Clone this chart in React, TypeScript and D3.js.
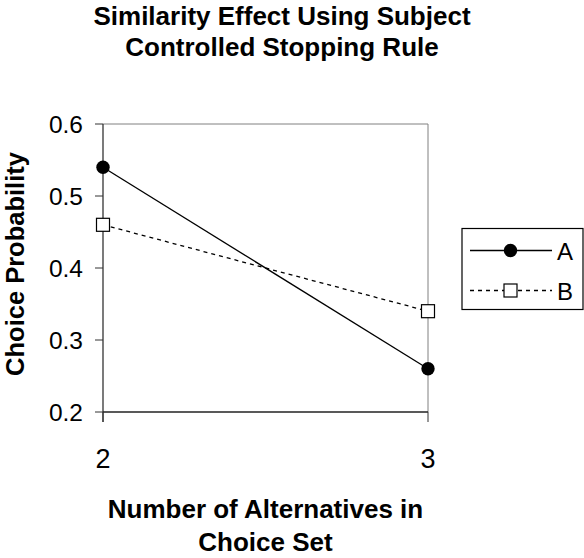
import React from "react";
import * as d3 from "d3";

const xValues = [2, 3];
const seriesA = [0.54, 0.26];
const seriesB = [0.46, 0.34];
const yTicks = [0.2, 0.3, 0.4, 0.5, 0.6];
const xTicks = [2, 3];
const titleLines = ["Similarity Effect Using Subject", "Controlled Stopping Rule"];
const xLabelLines = ["Number of Alternatives in", "Choice Set"];
const yLabel = "Choice Probability";

const W = 584;
const H = 558;
const left = 103;
const right = 428;
const top = 124;
const bottom = 412;
const font = "Liberation Sans, Arial, sans-serif";

export default function App() {
  const x = d3.scaleLinear().domain([2, 3]).range([left, right]);
  const y = d3.scaleLinear().domain([0.2, 0.6]).range([bottom, top]);
  const line = d3
    .line<number>()
    .x((_, i) => x(xValues[i]))
    .y((d) => y(d));

  return (
    <svg
      width={W}
      height={H}
      style={{ position: "absolute", left: 0, top: 0, background: "#fff" }}
      fontFamily={font}
    >
      {titleLines.map((t, i) => (
        <text
          key={t}
          x={282}
          y={25 + i * 31}
          textAnchor="middle"
          fontSize={26}
          fontWeight="bold"
        >
          {t}
        </text>
      ))}

      {/* plot frame */}
      <line x1={left} x2={right} y1={top} y2={top} stroke="#808080" />
      <line x1={right} x2={right} y1={top} y2={bottom} stroke="#808080" />

      {/* axes */}
      <line x1={left} x2={left} y1={top} y2={bottom + 10} stroke="#333" strokeWidth={1.3} />
      <line x1={left} x2={right} y1={bottom} y2={bottom} stroke="#222" strokeWidth={1.3} />
      {xTicks.map((t) => (
        <g key={t}>
          <line x1={x(t)} x2={x(t)} y1={bottom} y2={bottom + 10} stroke="#333" />
          <text x={x(t)} y={468} textAnchor="middle" fontSize={27}>
            {t}
          </text>
        </g>
      ))}
      {yTicks.map((t) => (
        <g key={t}>
          <line x1={left - 8} x2={left} y1={y(t)} y2={y(t)} stroke="#333" />
          <text x={83} y={y(t) + 8.5} textAnchor="end" fontSize={24.5}>
            {d3.format(".1f")(t)}
          </text>
        </g>
      ))}

      <text
        transform={`translate(24,${(top + bottom) / 2 - 4}) rotate(-90)`}
        textAnchor="middle"
        fontSize={25.5}
        fontWeight="bold"
      >
        {yLabel}
      </text>
      {xLabelLines.map((t, i) => (
        <text
          key={t}
          x={265.5}
          y={518 + i * 33}
          textAnchor="middle"
          fontSize={26}
          fontWeight="bold"
        >
          {t}
        </text>
      ))}

      {/* series */}
      <path d={line(seriesB) || ""} fill="none" stroke="#000" strokeWidth={1.3} strokeDasharray="4,4" />
      <path d={line(seriesA) || ""} fill="none" stroke="#000" strokeWidth={1.3} />
      {seriesA.map((v, i) => (
        <circle key={i} cx={x(xValues[i])} cy={y(v)} r={6.7} fill="#000" />
      ))}
      {seriesB.map((v, i) => (
        <rect
          key={i}
          x={x(xValues[i]) - 6.5}
          y={y(v) - 6.5}
          width={13}
          height={13}
          fill="#fff"
          stroke="#000"
          strokeWidth={1.2}
        />
      ))}

      {/* legend */}
      <rect x={462} y={228.5} width={121} height={81} fill="#fff" stroke="#000" strokeWidth={1.2} />
      <line x1={470} x2={552} y1={250.5} y2={250.5} stroke="#000" strokeWidth={1.3} />
      <circle cx={510.5} cy={250.5} r={6.7} fill="#000" />
      <text x={557} y={260} fontSize={24}>A</text>
      <line x1={470} x2={552} y1={290.5} y2={290.5} stroke="#000" strokeWidth={1.3} strokeDasharray="4,4" />
      <rect x={504} y={284} width={13} height={13} fill="#fff" stroke="#000" strokeWidth={1.2} />
      <text x={557} y={300} fontSize={24}>B</text>
    </svg>
  );
}
